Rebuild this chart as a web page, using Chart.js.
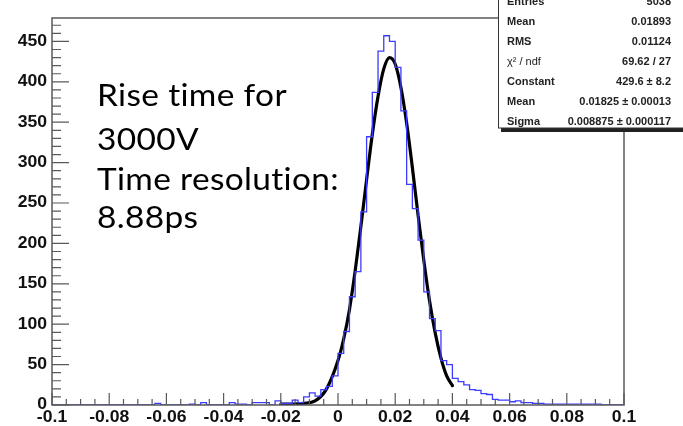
<!DOCTYPE html>
<html>
<head>
<meta charset="utf-8">
<title>Rise time 3000V</title>
<script src="https://cdn.jsdelivr.net/npm/chart.js@4.4.1/dist/chart.umd.min.js"></script>
<style>
  html, body { margin: 0; padding: 0; background: #fff; }
  #raport { width: 683px; height: 426px; }
</style>
</head>
<body>
<div id="raport"><canvas id="charts" width="683" height="426"></canvas></div>
<script>
// histogram, 100 bins from -0.1 to 0.1
const histStart = -0.1
const binWidth = 0.002
const counts = [
  0, 0, 0, 0, 0, 0, 0, 0, 0, 0,
  0, 0, 0, 0, 0, 0, 0, 0, 2, 0,
  0, 0, 0, 0, 1, 0, 3, 0, 0, 0,
  0, 3, 1, 1, 0, 3, 3, 3, 0, 5,
  2, 2, 6, 3, 10, 15, 11, 19, 23, 36,
  64, 91, 134, 165, 239, 332, 387, 438, 457, 450,
  418, 364, 273, 243, 204, 140, 107, 92, 55, 50,
  33, 29, 25, 19, 18, 14, 13, 7, 6, 6,
  4, 5, 3, 3, 2, 2, 1, 1, 1, 1,
  1, 1, 1, 1, 1, 1, 0, 0, 0, 0
]

// black fit curve
const fitX = [-0.02, -0.016, -0.012, -0.008, -0.004, 0, 0.002, 0.004, 0.006, 0.008, 0.010, 0.012, 0.014,
              0.016, 0.018, 0.020, 0.022, 0.024, 0.026, 0.028, 0.030, 0.032, 0.034, 0.036, 0.038, 0.040]
const fitY = [1, 1, 2, 5, 20, 55, 82, 118, 166, 221, 279, 335, 382,
              416, 430, 422, 393, 349, 294, 235, 179, 129, 89, 58, 36, 24]

const xTickLabels = ['-0.1', '-0.08', '-0.06', '-0.04', '-0.02', '0', '0.02', '0.04', '0.06', '0.08', '0.1']
const yTickLabels = ['0', '50', '100', '150', '200', '250', '300', '350', '400', '450']

const noteLines = ['Rise time for', '3000V', 'Time resolution:', '8.88ps']

const statNames = ['Entries', 'Mean', 'RMS', 'χ² / ndf', 'Constant', 'Mean', 'Sigma']
const statValues = ['5038', '0.01893', '0.01124', '69.62 / 27', '429.6 ± 8.2', '0.01825 ± 0.00013', '0.008875 ± 0.000117']


// text in the picture is a bit wider than the fonts we have
function stretchText(ctx, txt, x, y, sx, align){
  ctx.save()
  ctx.translate(x, y)
  ctx.scale(sx, 1)
  ctx.textAlign = align
  ctx.fillText(txt, 0, 0)
  ctx.restore()
}

const rootFrame = {
  id: 'rootFrame',
  afterDraw(chart){
    const ctx = chart.ctx
    const a = chart.chartArea
    const xs = chart.scales.x
    const ys = chart.scales.y

    ctx.save()
    ctx.strokeStyle = '#5a5a5a'
    ctx.lineWidth = 1.5
    ctx.strokeRect(a.left, a.top, a.right - a.left, a.bottom - a.top)

    // x ticks, minor every 0.005
    ctx.lineWidth = 1.2
    ctx.beginPath()
    for (let i = 0; i <= 40; i++){
      const px = xs.getPixelForValue(-0.1 + i * 0.005)
      const len = (i % 4 == 0) ? 12 : 6
      ctx.moveTo(px, a.bottom)
      ctx.lineTo(px, a.bottom - len)
    }
    // y ticks, minor every 10
    for (let i = 0; i <= 47; i++){
      const py = ys.getPixelForValue(i * 10)
      const len = (i % 5 == 0) ? 17 : 9
      ctx.moveTo(a.left, py)
      ctx.lineTo(a.left + len, py)
    }
    ctx.stroke()

    ctx.fillStyle = '#111'
    ctx.font = "bold 16px 'Liberation Sans', Arial, sans-serif"
    ctx.textBaseline = 'alphabetic'
    xTickLabels.forEach(lab => {
      stretchText(ctx, lab, xs.getPixelForValue(parseFloat(lab)), 422, 1.1, 'center')
    })
    ctx.textBaseline = 'middle'
    yTickLabels.forEach(lab => {
      stretchText(ctx, lab, a.left - 5, ys.getPixelForValue(parseFloat(lab)), 1.1, 'right')
    })

    // big note on the left (small letter spacing stops the "ti" ligature)
    ctx.fillStyle = '#000'
    ctx.font = "30px Lato, 'Open Sans', sans-serif"
    ctx.letterSpacing = '0.3px'
    ctx.textBaseline = 'alphabetic'
    const sx = 242 / ctx.measureText(noteLines[2]).width
    const noteY = [106, 150, 190, 228]
    noteLines.forEach((line, i) => {
      stretchText(ctx, line, 97, noteY[i], sx, 'left')
    })
    ctx.letterSpacing = '0px'

    // stats box, top right
    ctx.fillStyle = '#222'
    ctx.fillRect(501, 128, 190, 4)
    ctx.fillStyle = '#fff'
    ctx.fillRect(498.5, -2, 200, 130)
    ctx.strokeStyle = '#333'
    ctx.lineWidth = 1
    ctx.strokeRect(498.5, -2, 200, 130)

    ctx.textBaseline = 'middle'
    for (let i = 0; i < statNames.length; i++){
      const rowY = 1.5 + i * 20
      ctx.fillStyle = '#222'
      ctx.font = (i == 3) ? "11px 'Liberation Sans', Arial, sans-serif" : "bold 11px 'Liberation Sans', Arial, sans-serif"
      ctx.textAlign = 'left'
      ctx.fillText(statNames[i], 507, rowY)
      ctx.font = "bold 11px 'Liberation Sans', Arial, sans-serif"
      ctx.textAlign = 'right'
      ctx.fillText(statValues[i], 671, rowY)
    }
    ctx.restore()
  }
}

// step points on left bin edges, plus closing edge
// ('before' keeps each count on [edge, next edge))
let histPoints = counts.map((c, i) => ({x: histStart + i * binWidth, y: c}))
histPoints.push({x: histStart + counts.length * binWidth, y: 0})

let fitPoints = fitX.map((v, i) => ({x: v, y: fitY[i]}))

let ctx = document.getElementById('charts').getContext('2d')
window.chart = new Chart(ctx, {
  type: 'line',
  data: {
    datasets: [
      {
        label: 'histo',
        data: histPoints,
        stepped: 'before',
        borderColor: '#3c3cff',
        borderWidth: 1.3,
        pointRadius: 0,
        fill: false
      },
      {
        label: 'gaus fit',
        data: fitPoints,
        cubicInterpolationMode: 'monotone',
        borderColor: '#000',
        borderWidth: 3.2,
        borderCapStyle: 'round',
        pointRadius: 0,
        fill: false
      }
    ]
  },
  options: {
    responsive: false,
    animation: false,
    layout: {
      padding: {left: 52, top: 18, right: 59, bottom: 21}
    },
    plugins: {
      legend: {display: false},
      tooltip: {enabled: false},
      title: {display: false}
    },
    scales: {
      x: {type: 'linear', min: -0.1, max: 0.1, display: false},
      y: {min: 0, max: 479, display: false}
    }
  },
  plugins: [rootFrame]
})
</script>
</body>
</html>
